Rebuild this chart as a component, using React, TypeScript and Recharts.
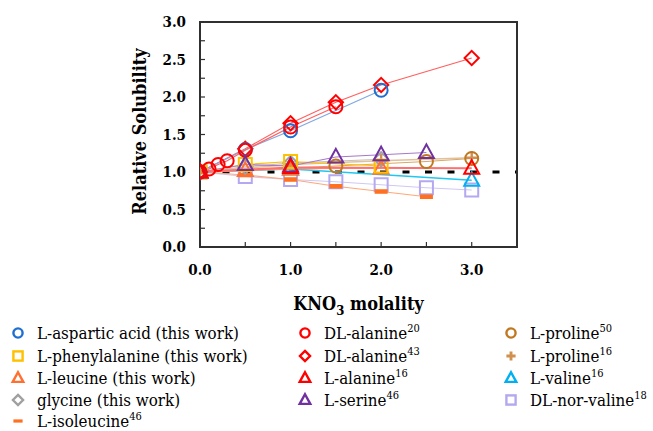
import React from 'react';
import { LineChart, Line, XAxis, YAxis, ReferenceLine, ReferenceArea, Legend, Label } from 'recharts';

type Pt = { x: number; y: number };
type Shape = 'circle' | 'square' | 'triangle' | 'diamond' | 'dash' | 'cross';

const xTicks = [0, 0.5, 1, 1.5, 2, 2.5, 3, 3.5];
const yTicks = [0, 0.25, 0.5, 0.75, 1, 1.25, 1.5, 1.75, 2, 2.25, 2.5, 2.75, 3];

// values
const asparticAcid: Pt[] = [
  { x: 0, y: 1.0 }, { x: 0.5, y: 1.3 }, { x: 1, y: 1.55 }, { x: 2, y: 2.09 },
];
const phenylalanine: Pt[] = [
  { x: 0, y: 1.0 }, { x: 0.5, y: 1.1 }, { x: 1, y: 1.14 }, { x: 2, y: 1.08 },
];
const leucine: Pt[] = [
  { x: 0, y: 1.0 }, { x: 0.5, y: 1.02 }, { x: 1, y: 1.04 }, { x: 2, y: 1.05 },
];
const glycine: Pt[] = [
  { x: 0, y: 1.0 }, { x: 0.5, y: 1.07 }, { x: 1, y: 1.12 }, { x: 2, y: 1.17 },
];
const isoleucine: Pt[] = [
  { x: 0, y: 1.0 }, { x: 0.5, y: 0.96 }, { x: 1, y: 0.9 }, { x: 1.5, y: 0.81 },
  { x: 2, y: 0.74 }, { x: 2.5, y: 0.67 },
];
const dlAlanine20: Pt[] = [
  { x: 0, y: 1.0 }, { x: 0.1, y: 1.04 }, { x: 0.2, y: 1.1 }, { x: 0.3, y: 1.15 },
  { x: 0.5, y: 1.29 }, { x: 1, y: 1.6 }, { x: 1.5, y: 1.87 },
];
const dlAlanine43: Pt[] = [
  { x: 0, y: 1.0 }, { x: 0.5, y: 1.31 }, { x: 1, y: 1.65 }, { x: 1.5, y: 1.93 },
  { x: 2, y: 2.16 }, { x: 3, y: 2.52 },
];
const lAlanine16: Pt[] = [
  { x: 0, y: 1.0 }, { x: 1, y: 1.06 }, { x: 3, y: 1.05 },
];
const serine46: Pt[] = [
  { x: 0, y: 1.0 }, { x: 0.5, y: 1.1 }, { x: 1, y: 1.08 }, { x: 1.5, y: 1.2 },
  { x: 2, y: 1.23 }, { x: 2.5, y: 1.26 },
];
const proline50: Pt[] = [
  { x: 0, y: 1.0 }, { x: 1.5, y: 1.08 }, { x: 2.5, y: 1.14 }, { x: 3, y: 1.18 },
];
const proline16: Pt[] = [
  { x: 0, y: 1.0 }, { x: 1, y: 1.1 }, { x: 2, y: 1.15 }, { x: 3, y: 1.19 },
];
const valine16: Pt[] = [
  { x: 0, y: 1.0 }, { x: 1, y: 1.04 }, { x: 3, y: 0.89 },
];
const norValine18: Pt[] = [
  { x: 0, y: 1.0 }, { x: 0.5, y: 0.94 }, { x: 1, y: 0.9 }, { x: 1.5, y: 0.87 },
  { x: 2, y: 0.83 }, { x: 2.5, y: 0.79 }, { x: 3, y: 0.76 },
];

interface Series {
  id: string;
  name: string;
  sup?: string;
  data: Pt[];
  color: string;
  line: string;
  lw: number;
  shape: Shape;
  col: number;
  row: number;
}

// drawing order (last is on top)
const series: Series[] = [
  { id: 'norval', name: 'DL-nor-valine', sup: '18', data: norValine18, color: '#b4a8f0', line: '#cfc8f4', lw: 1.2, shape: 'square', col: 2, row: 3 },
  { id: 'ile', name: 'L-isoleucine', sup: '46', data: isoleucine, color: '#ff7020', line: '#ffa878', lw: 1.2, shape: 'dash', col: 0, row: 4 },
  { id: 'val', name: 'L-valine', sup: '16', data: valine16, color: '#00b0f0', line: '#20c8f0', lw: 1.6, shape: 'triangle', col: 2, row: 2 },
  { id: 'pro16', name: 'L-proline', sup: '16', data: proline16, color: '#d09050', line: '#e4c098', lw: 1.6, shape: 'cross', col: 2, row: 1 },
  { id: 'pro50', name: 'L-proline', sup: '50', data: proline50, color: '#c07820', line: '#d8a868', lw: 1.2, shape: 'circle', col: 2, row: 0 },
  { id: 'gly', name: 'glycine (this work)', data: glycine, color: '#a0a0a0', line: '#c0c0c0', lw: 1.2, shape: 'diamond', col: 0, row: 3 },
  { id: 'leu', name: 'L-leucine (this work)', data: leucine, color: '#ff7030', line: '#ffa070', lw: 1.2, shape: 'triangle', col: 0, row: 2 },
  { id: 'phe', name: 'L-phenylalanine (this work)', data: phenylalanine, color: '#ffc000', line: '#ffc000', lw: 1.2, shape: 'square', col: 0, row: 1 },
  { id: 'ala43', name: 'DL-alanine', sup: '43', data: dlAlanine43, color: '#ff0000', line: '#ff6060', lw: 1.2, shape: 'diamond', col: 1, row: 1 },
  { id: 'asp', name: 'L-aspartic acid (this work)', data: asparticAcid, color: '#1f6fd0', line: '#80a8e0', lw: 1.2, shape: 'circle', col: 0, row: 0 },
  { id: 'ala20', name: 'DL-alanine', sup: '20', data: dlAlanine20, color: '#ff0000', line: '#ff6060', lw: 1.2, shape: 'circle', col: 1, row: 0 },
  { id: 'ser', name: 'L-serine', sup: '46', data: serine46, color: '#7030a0', line: '#a878c8', lw: 1.2, shape: 'triangle', col: 1, row: 3 },
  { id: 'ala16', name: 'L-alanine', sup: '16', data: lAlanine16, color: '#ff0000', line: '#ff7070', lw: 2.2, shape: 'triangle', col: 1, row: 2 },
];

const serifFont = "'DejaVu Serif Condensed', 'DejaVu Serif', serif";
const CHART_W = 653;
const CHART_H = 431;
const Y_AXIS_W = 75;
const X_AXIS_H = 70;
const margin = { top: 22, right: 136, bottom: 114, left: 125 };

function marker(shape: Shape, cx: number, cy: number, color: string, s: number, sw: number) {
  switch (shape) {
    case 'circle':
      return <circle cx={cx} cy={cy} r={s} fill="none" stroke={color} strokeWidth={sw} />;
    case 'square':
      return <rect x={cx - s} y={cy - s} width={2 * s} height={2 * s} fill="none" stroke={color} strokeWidth={sw} />;
    case 'triangle':
      return (
        <polygon
          points={`${cx},${cy - s * 1.25} ${cx + s * 1.15},${cy + s * 0.85} ${cx - s * 1.15},${cy + s * 0.85}`}
          fill="none" stroke={color} strokeWidth={sw} strokeLinejoin="miter"
        />
      );
    case 'diamond':
      return (
        <polygon
          points={`${cx},${cy - s * 1.1} ${cx + s * 1.1},${cy} ${cx},${cy + s * 1.1} ${cx - s * 1.1},${cy}`}
          fill="none" stroke={color} strokeWidth={sw}
        />
      );
    case 'dash':
      return <rect x={cx - s} y={cy - s * 0.35} width={2 * s} height={s * 0.7} fill={color} />;
    case 'cross':
      return (
        <path d={`M${cx - s},${cy}H${cx + s}M${cx},${cy - s}V${cy + s}`} stroke={color} strokeWidth={sw * 1.2} fill="none" />
      );
  }
}

const makeDot = (s: Series) => (props: any) => {
  const { cx, cy, index } = props;
  if (cx == null || cy == null) return <g key={`${s.id}-${index}`} />;
  return <g key={`${s.id}-${index}`}>{marker(s.shape, cx, cy, s.color, 6.5, 2)}</g>;
};

const colLeft = [10, 297, 503];
const rowTop = [3, 26, 48, 70, 91];

const renderLegend = () => (
  <div style={{ position: 'relative', width: CHART_W, height: 113, fontFamily: serifFont, fontStretch: 'condensed', fontSize: 16.8, color: '#000' }}>
    {series.map((s) => (
      <div
        key={s.id}
        style={{ position: 'absolute', left: colLeft[s.col], top: rowTop[s.row], height: 22, display: 'flex', alignItems: 'center', whiteSpace: 'nowrap' }}
      >
        <svg width={16} height={16} style={{ marginRight: 11, flex: 'none' }}>
          {marker(s.shape, 8, 8, s.color, 4.6, 2.4)}
        </svg>
        <span>
          {s.name}
          {s.sup && <sup style={{ fontSize: 11, verticalAlign: 'super', lineHeight: 0 }}>{s.sup}</sup>}
        </span>
      </div>
    ))}
  </div>
);

// plot box edges, from the fixed margins
const plotLeft = margin.left + Y_AXIS_W;
const plotRight = CHART_W - margin.right;
const plotTop = margin.top;
const plotBottom = CHART_H - margin.bottom - X_AXIS_H;

const axisColor = '#303030';
const tickFont = { fill: '#000', fontFamily: serifFont, fontStretch: 'condensed', fontWeight: 700, fontSize: 15 };

export default function App() {
  return (
    <div style={{ position: 'absolute', left: 0, top: 0, width: CHART_W, height: CHART_H, background: '#fff' }}>
      <LineChart width={CHART_W} height={CHART_H} margin={margin}>
        <XAxis
          type="number"
          dataKey="x"
          domain={[0, 3.5]}
          ticks={xTicks}
          interval={0}
          allowDataOverflow
          tickFormatter={(v: number) => (Number.isInteger(v) && v < 3.5 ? v.toFixed(1) : '')}
          tickSize={-5}
          tickMargin={22}
          height={X_AXIS_H}
          axisLine={{ stroke: axisColor, strokeWidth: 1.5 }}
          tickLine={{ stroke: axisColor, strokeWidth: 1.2 }}
          tick={tickFont}
        >
          <Label
            content={() => (
              <text
                x={(plotLeft + plotRight) / 2}
                y={plotBottom + 63}
                textAnchor="middle"
                fontFamily={serifFont}
                fontWeight={700}
                fontSize={18}
                style={{ fontStretch: 'condensed' }}
                fill="#000"
              >
                KNO<tspan dy={5} fontSize={13}>3</tspan>
                <tspan dy={-5}> molality</tspan>
              </text>
            )}
          />
        </XAxis>
        <YAxis
          type="number"
          domain={[0, 3]}
          ticks={yTicks}
          interval={0}
          allowDataOverflow
          tickFormatter={(v: number) => (Math.abs(v * 2 - Math.round(v * 2)) < 1e-9 ? v.toFixed(1) : '')}
          tickSize={-5}
          tickMargin={19}
          width={Y_AXIS_W}
          axisLine={{ stroke: axisColor, strokeWidth: 1.5 }}
          tickLine={{ stroke: axisColor, strokeWidth: 1.2 }}
          tick={tickFont}
        >
          <Label
            content={() => {
              const x = margin.left + 14;
              const y = (plotTop + plotBottom) / 2 - 3;
              return (
                <text
                  x={x}
                  y={y}
                  transform={`rotate(-90 ${x} ${y})`}
                  textAnchor="middle"
                  dominantBaseline="central"
                  fontFamily={serifFont}
                  fontWeight={700}
                  fontSize={18}
                  style={{ fontStretch: 'condensed' }}
                  fill="#000"
                >
                  Relative Solubility
                </text>
              );
            }}
          />
        </YAxis>
        {/* plot frame */}
        <ReferenceArea
          x1={0}
          x2={3.5}
          y1={0}
          y2={3}
          fill="none"
          fillOpacity={0}
          stroke={axisColor}
          strokeWidth={2}
          ifOverflow="visible"
        />
        <ReferenceLine y={1} stroke="#000" strokeWidth={3} strokeDasharray="7 15.5" />
        {series.map((s) => (
          <Line
            key={s.id}
            data={s.data}
            dataKey="y"
            name={s.id}
            type="linear"
            stroke={s.line}
            strokeWidth={s.lw}
            dot={makeDot(s)}
            activeDot={false}
            legendType="none"
            isAnimationActive={false}
          />
        ))}
        <Legend
          layout="vertical"
          align="center"
          verticalAlign="middle"
          content={renderLegend}
          wrapperStyle={{ left: 0, top: 319, width: CHART_W, height: 113 }}
        />
      </LineChart>
      {/* top and right frame of the plot box, drawn over the chart */}
      <svg
        width={CHART_W}
        height={CHART_H}
        style={{ position: 'absolute', left: 0, top: 0, pointerEvents: 'none', zIndex: 5 }}
      >
        <path
          d={`M${plotLeft},${plotTop}H${plotRight}V${plotBottom}`}
          fill="none"
          stroke={axisColor}
          strokeWidth={2}
        />
      </svg>
    </div>
  );
}
